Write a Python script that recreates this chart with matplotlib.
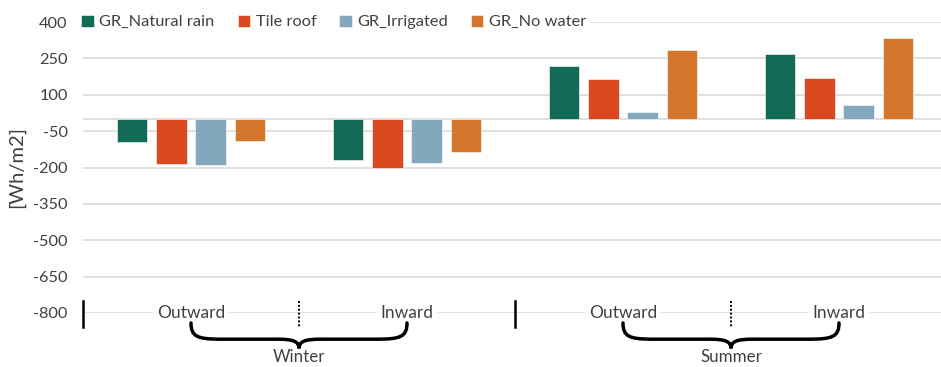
import matplotlib

matplotlib.use("Agg")
import matplotlib.pyplot as plt  # noqa: E402
from matplotlib.path import Path  # noqa: E402
from matplotlib.patches import PathPatch  # noqa: E402

plt.rcParams.update({"font.family": ["Lato", "DejaVu Sans"], "font.size": 11})

series = ["GR_Natural rain", "Tile roof", "GR_Irrigated", "GR_No water"]
colors = ["#126B55", "#D9481F", "#83A8BC", "#D4772D"]
categories = ["Outward", "Inward", "Outward", "Inward"]
groups = ["Winter", "Summer"]

natural_rain = [-94, -171, 220, 270]
tile_roof = [-186, -204, 164, 170]
irrigated = [-190, -183, 27, 56]
no_water = [-89, -135, 286, 335]
values = [natural_rain, tile_roof, irrigated, no_water]

yticks = [400, 250, 100, -50, -200, -350, -500, -650, -800]

TXT = "#404040"
GRID = "#D9D9D9"

fig = plt.figure(figsize=(9.41, 3.67), dpi=100)
W, H = 941, 367
ax = fig.add_axes([83 / W, 1 - 313 / H, (947 - 83) / W, (313 - 22) / H])

x = list(range(len(categories)))
step, width = 0.182, 0.143
for k, (name, col, vals) in enumerate(zip(series, colors, values)):
    off = (k - 1.5) * step
    ax.bar([i + off for i in x], vals, width=width, color=col, label=name,
           edgecolor="white", linewidth=0.4, zorder=3)

ax.set_xlim(-0.5, 3.5)
ax.set_ylim(-800, 400)
ax.set_yticks(yticks)
ax.set_yticklabels([str(t) for t in yticks], color=TXT, fontsize=11.8)
ax.tick_params(axis="y", length=0, pad=11)
ax.set_xticks([])
ax.yaxis.grid(True, color=GRID, linewidth=1.2, zorder=0)
ax.axhline(0, color=GRID, linewidth=1.2, zorder=1)
for s in ax.spines.values():
    s.set_visible(False)
ax.set_ylabel("[Wh/m2]", color=TXT, fontsize=14.5, labelpad=6)

# category labels sit on the bottom axis line
for i, lab in enumerate(categories):
    ax.text(i, -800, lab, ha="center", va="center", color=TXT, fontsize=12.5,
            bbox=dict(facecolor="white", edgecolor="none", pad=3), zorder=5)

# separators between categories
for xs, ls in [(-0.5, "-"), (0.5, (0, (1, 1))), (1.5, "-"), (2.5, (0, (1, 1))), (3.5, "-")]:
    ax.plot([xs, xs], [-752, -858], color="black", lw=1.8 if ls == "-" else 1.4,
            linestyle=ls, clip_on=False, zorder=6)


def brace(x0, x1):
    xm = (x0 + x1) / 2
    y0, y1, y2 = -841, -908, -946
    verts = [
        (x0, y0), (x0, y1 + 10), (x0 + 0.03, y1), (x0 + 0.14, y1),
        (xm - 0.1, y1),
        (xm - 0.03, y1), (xm, y1 - 8), (xm, y2),
        (xm, y1 - 8), (xm + 0.03, y1), (xm + 0.1, y1),
        (x1 - 0.14, y1),
        (x1 - 0.03, y1), (x1, y1 + 10), (x1, y0),
    ]
    codes = [Path.MOVETO, Path.CURVE4, Path.CURVE4, Path.CURVE4,
             Path.LINETO,
             Path.CURVE4, Path.CURVE4, Path.CURVE4,
             Path.CURVE4, Path.CURVE4, Path.CURVE4,
             Path.LINETO,
             Path.CURVE4, Path.CURVE4, Path.CURVE4]
    ax.add_patch(PathPatch(Path(verts, codes), fill=False, lw=2.5, color="black",
                           clip_on=False, zorder=6, capstyle="round"))


for g, name in enumerate(groups):
    brace(2 * g, 2 * g + 1)
    ax.text(2 * g + 0.5, -1016, name, ha="center", va="bottom", color=TXT, fontsize=12.2,
            clip_on=False)

leg = ax.legend(loc="center left", bbox_to_anchor=(-0.017, 1.0), ncol=4, frameon=True,
                facecolor="white", edgecolor="none", framealpha=1, fancybox=False,
                handlelength=0.75, handleheight=0.75, handletextpad=0.35,
                columnspacing=1.4, borderpad=0.3, fontsize=11.8)
for t in leg.get_texts():
    t.set_color(TXT)
leg.set_zorder(4)

fig.savefig("out.png", dpi=100)
